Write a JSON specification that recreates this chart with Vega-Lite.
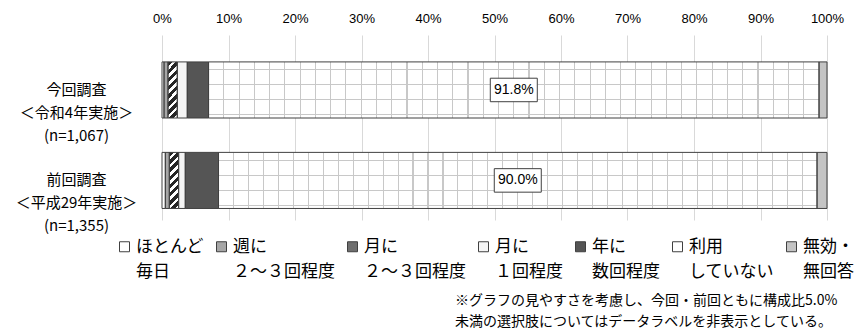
{
  "$schema": "https://vega.github.io/schema/vega-lite/v6.json",
  "width": 665,
  "height": 185,
  "autosize": {"type": "none"},
  "padding": {"left": 162, "top": 35, "right": 40, "bottom": 113},
  "background": "white",
  "config": {"view": {"stroke": null}, "font": "Noto Sans CJK JP"},
  "title": {
    "text": ["※グラフの見やすさを考慮し、今回・前回ともに構成比5.0%", "未満の選択肢についてはデータラベルを非表示としている。"],
    "orient": "bottom", "anchor": "start", "align": "left", "frame": "group",
    "dx": 293, "offset": 14, "fontSize": 14, "fontWeight": "normal",
    "font": "Noto Sans CJK JP", "color": "#000000", "lineHeight": 21
  },
  "data": {
    "values": [
      {"survey": "今回調査", "cat": "ほとんど毎日", "value": 0.3},
      {"survey": "今回調査", "cat": "週に２～３回程度", "value": 0.6},
      {"survey": "今回調査", "cat": "月に２～３回程度", "value": 1.4},
      {"survey": "今回調査", "cat": "月に１回程度", "value": 1.5},
      {"survey": "今回調査", "cat": "年に数回程度", "value": 3.2},
      {"survey": "今回調査", "cat": "利用していない", "value": 91.8},
      {"survey": "今回調査", "cat": "無効・無回答", "value": 1.2},
      {"survey": "前回調査", "cat": "ほとんど毎日", "value": 0.5},
      {"survey": "前回調査", "cat": "週に２～３回程度", "value": 0.6},
      {"survey": "前回調査", "cat": "月に２～３回程度", "value": 1.4},
      {"survey": "前回調査", "cat": "月に１回程度", "value": 1.0},
      {"survey": "前回調査", "cat": "年に数回程度", "value": 5.0},
      {"survey": "前回調査", "cat": "利用していない", "value": 90.0},
      {"survey": "前回調査", "cat": "無効・無回答", "value": 1.5}
    ]
  },
  "transform": [
    {"calculate": "indexof(['ほとんど毎日','週に２～３回程度','月に２～３回程度','月に１回程度','年に数回程度','利用していない','無効・無回答'], datum.cat)", "as": "o"},
    {"stack": "value", "groupby": ["survey"], "sort": [{"field": "o", "order": "ascending"}], "as": ["v0", "v1"]}
  ],
  "layer": [
    {
      "mark": {"type": "bar", "strokeWidth": 0},
      "encoding": {
        "x": {
          "field": "v0", "type": "quantitative",
          "scale": {"domain": [0, 100], "nice": false, "zero": true},
          "axis": {
            "orient": "top", "title": null, "values": [0, 10, 20, 30, 40, 50, 60, 70, 80, 90, 100],
            "labelExpr": "datum.value + '%'", "grid": true, "gridColor": "#d9d9d9", "gridWidth": 1,
            "domain": false, "ticks": false, "tickSize": 0, "labelPadding": 10, "labelFlush": false,
            "labelFont": "Liberation Sans", "labelFontSize": 13, "labelColor": "#000000"
          }
        },
        "x2": {"field": "v1"},
        "y": {
          "field": "survey", "type": "nominal", "sort": ["今回調査", "前回調査"],
          "scale": {"paddingInner": 0.38, "paddingOuter": 0.2125, "align": 0.7},
          "axis": {
            "title": null, "domain": false, "ticks": false, "tickSize": 0,
            "labelAlign": "center", "labelBaseline": "middle", "labelPadding": 86,
            "labelFontSize": 15, "labelLineHeight": 23, "labelColor": "#000000",
            "labelFont": "Noto Sans CJK JP", "labelLimit": 0,
            "labelExpr": "datum.label == '今回調査' ? ['今回調査', '＜令和4年実施＞', '(n=1,067)'] : ['前回調査', '＜平成29年実施＞', '(n=1,355)']"
          }
        },
        "color": {
          "field": "cat", "type": "nominal",
          "scale": {
            "domain": ["ほとんど毎日", "週に２～３回程度", "月に２～３回程度", "月に１回程度", "年に数回程度", "利用していない", "無効・無回答"],
            "range": ["#ffffff", "#a6a6a6", "#6e6e6e", "#f5f5f5", "#555555", "#ffffff", "#c4c4c4"]
          },
          "legend": {
            "orient": "none", "legendX": -46, "legendY": 203, "direction": "horizontal", "columns": 7,
            "title": null, "padding": 0, "symbolType": "square", "symbolSize": 100,
            "symbolStrokeColor": "#404040", "symbolStrokeWidth": 1, "symbolOpacity": 1,
            "labelFontSize": 17, "labelFont": "Noto Sans CJK JP", "labelColor": "#000000",
            "labelBaseline": "middle", "labelOffset": 3, "labelLimit": 0, "columnPadding": 9,
            "labelExpr": "datum.label == 'ほとんど毎日' ? ['ほとんど', '毎日'] : datum.label == '無効・無回答' ? ['無効・', '無回答'] : [substring(datum.label, 0, 2), substring(datum.label, 2)]",
            "encode": {"labels": {"update": {"lineHeight": {"value": 25}}}}
          }
        }
      }
    },
    {
      "transform": [{"filter": "datum.cat == '月に２～３回程度'"}],
      "mark": {
        "type": "bar", "strokeWidth": 0,
        "fill": {
          "gradient": "linear", "x1": 0, "y1": 0, "x2": 0.19, "y2": 1.13,
          "stops": [
            {"offset": 0, "color": "#262626"}, {"offset": 0.07, "color": "#262626"}, {"offset": 0.07, "color": "#ffffff"}, {"offset": 0.125, "color": "#ffffff"},
            {"offset": 0.125, "color": "#262626"}, {"offset": 0.195, "color": "#262626"}, {"offset": 0.195, "color": "#ffffff"}, {"offset": 0.25, "color": "#ffffff"},
            {"offset": 0.25, "color": "#262626"}, {"offset": 0.32, "color": "#262626"}, {"offset": 0.32, "color": "#ffffff"}, {"offset": 0.375, "color": "#ffffff"},
            {"offset": 0.375, "color": "#262626"}, {"offset": 0.445, "color": "#262626"}, {"offset": 0.445, "color": "#ffffff"}, {"offset": 0.5, "color": "#ffffff"},
            {"offset": 0.5, "color": "#262626"}, {"offset": 0.57, "color": "#262626"}, {"offset": 0.57, "color": "#ffffff"}, {"offset": 0.625, "color": "#ffffff"},
            {"offset": 0.625, "color": "#262626"}, {"offset": 0.695, "color": "#262626"}, {"offset": 0.695, "color": "#ffffff"}, {"offset": 0.75, "color": "#ffffff"},
            {"offset": 0.75, "color": "#262626"}, {"offset": 0.82, "color": "#262626"}, {"offset": 0.82, "color": "#ffffff"}, {"offset": 0.875, "color": "#ffffff"},
            {"offset": 0.875, "color": "#262626"}, {"offset": 0.945, "color": "#262626"}, {"offset": 0.945, "color": "#ffffff"}, {"offset": 1, "color": "#ffffff"}
          ]
        }
      },
      "encoding": {
        "x": {"field": "v0", "type": "quantitative"},
        "x2": {"field": "v1"},
        "y": {"field": "survey", "type": "nominal", "sort": ["今回調査", "前回調査"]}
      }
    },
    {
      "transform": [{"filter": "datum.cat == '利用していない'"}],
      "mark": {
        "type": "bar", "strokeWidth": 0,
        "fill": {
          "gradient": "linear", "x1": 0, "y1": 0, "x2": 1, "y2": 0,
          "stops": [
            {"offset": 0, "color": "rgba(200,200,200,0)"},
            {"offset": 0.0241, "color": "rgba(200,200,200,0)"}, {"offset": 0.0241, "color": "#c8c8c8"}, {"offset": 0.0259, "color": "#c8c8c8"}, {"offset": 0.0259, "color": "rgba(200,200,200,0)"},
            {"offset": 0.0491, "color": "rgba(200,200,200,0)"}, {"offset": 0.0491, "color": "#c8c8c8"}, {"offset": 0.0509, "color": "#c8c8c8"}, {"offset": 0.0509, "color": "rgba(200,200,200,0)"},
            {"offset": 0.0741, "color": "rgba(200,200,200,0)"}, {"offset": 0.0741, "color": "#c8c8c8"}, {"offset": 0.0759, "color": "#c8c8c8"}, {"offset": 0.0759, "color": "rgba(200,200,200,0)"},
            {"offset": 0.0991, "color": "rgba(200,200,200,0)"}, {"offset": 0.0991, "color": "#c8c8c8"}, {"offset": 0.1009, "color": "#c8c8c8"}, {"offset": 0.1009, "color": "rgba(200,200,200,0)"},
            {"offset": 0.1241, "color": "rgba(200,200,200,0)"}, {"offset": 0.1241, "color": "#c8c8c8"}, {"offset": 0.1259, "color": "#c8c8c8"}, {"offset": 0.1259, "color": "rgba(200,200,200,0)"},
            {"offset": 0.1491, "color": "rgba(200,200,200,0)"}, {"offset": 0.1491, "color": "#c8c8c8"}, {"offset": 0.1509, "color": "#c8c8c8"}, {"offset": 0.1509, "color": "rgba(200,200,200,0)"},
            {"offset": 0.1741, "color": "rgba(200,200,200,0)"}, {"offset": 0.1741, "color": "#c8c8c8"}, {"offset": 0.1759, "color": "#c8c8c8"}, {"offset": 0.1759, "color": "rgba(200,200,200,0)"},
            {"offset": 0.1991, "color": "rgba(200,200,200,0)"}, {"offset": 0.1991, "color": "#c8c8c8"}, {"offset": 0.2009, "color": "#c8c8c8"}, {"offset": 0.2009, "color": "rgba(200,200,200,0)"},
            {"offset": 0.2241, "color": "rgba(200,200,200,0)"}, {"offset": 0.2241, "color": "#c8c8c8"}, {"offset": 0.2259, "color": "#c8c8c8"}, {"offset": 0.2259, "color": "rgba(200,200,200,0)"},
            {"offset": 0.2491, "color": "rgba(200,200,200,0)"}, {"offset": 0.2491, "color": "#c8c8c8"}, {"offset": 0.2509, "color": "#c8c8c8"}, {"offset": 0.2509, "color": "rgba(200,200,200,0)"},
            {"offset": 0.2741, "color": "rgba(200,200,200,0)"}, {"offset": 0.2741, "color": "#c8c8c8"}, {"offset": 0.2759, "color": "#c8c8c8"}, {"offset": 0.2759, "color": "rgba(200,200,200,0)"},
            {"offset": 0.2991, "color": "rgba(200,200,200,0)"}, {"offset": 0.2991, "color": "#c8c8c8"}, {"offset": 0.3009, "color": "#c8c8c8"}, {"offset": 0.3009, "color": "rgba(200,200,200,0)"},
            {"offset": 0.3241, "color": "rgba(200,200,200,0)"}, {"offset": 0.3241, "color": "#c8c8c8"}, {"offset": 0.3259, "color": "#c8c8c8"}, {"offset": 0.3259, "color": "rgba(200,200,200,0)"},
            {"offset": 0.3491, "color": "rgba(200,200,200,0)"}, {"offset": 0.3491, "color": "#c8c8c8"}, {"offset": 0.3509, "color": "#c8c8c8"}, {"offset": 0.3509, "color": "rgba(200,200,200,0)"},
            {"offset": 0.3741, "color": "rgba(200,200,200,0)"}, {"offset": 0.3741, "color": "#c8c8c8"}, {"offset": 0.3759, "color": "#c8c8c8"}, {"offset": 0.3759, "color": "rgba(200,200,200,0)"},
            {"offset": 0.3991, "color": "rgba(200,200,200,0)"}, {"offset": 0.3991, "color": "#c8c8c8"}, {"offset": 0.4009, "color": "#c8c8c8"}, {"offset": 0.4009, "color": "rgba(200,200,200,0)"},
            {"offset": 0.4241, "color": "rgba(200,200,200,0)"}, {"offset": 0.4241, "color": "#c8c8c8"}, {"offset": 0.4259, "color": "#c8c8c8"}, {"offset": 0.4259, "color": "rgba(200,200,200,0)"},
            {"offset": 0.4491, "color": "rgba(200,200,200,0)"}, {"offset": 0.4491, "color": "#c8c8c8"}, {"offset": 0.4509, "color": "#c8c8c8"}, {"offset": 0.4509, "color": "rgba(200,200,200,0)"},
            {"offset": 0.4741, "color": "rgba(200,200,200,0)"}, {"offset": 0.4741, "color": "#c8c8c8"}, {"offset": 0.4759, "color": "#c8c8c8"}, {"offset": 0.4759, "color": "rgba(200,200,200,0)"},
            {"offset": 0.4991, "color": "rgba(200,200,200,0)"}, {"offset": 0.4991, "color": "#c8c8c8"}, {"offset": 0.5009, "color": "#c8c8c8"}, {"offset": 0.5009, "color": "rgba(200,200,200,0)"},
            {"offset": 0.5241, "color": "rgba(200,200,200,0)"}, {"offset": 0.5241, "color": "#c8c8c8"}, {"offset": 0.5259, "color": "#c8c8c8"}, {"offset": 0.5259, "color": "rgba(200,200,200,0)"},
            {"offset": 0.5491, "color": "rgba(200,200,200,0)"}, {"offset": 0.5491, "color": "#c8c8c8"}, {"offset": 0.5509, "color": "#c8c8c8"}, {"offset": 0.5509, "color": "rgba(200,200,200,0)"},
            {"offset": 0.5741, "color": "rgba(200,200,200,0)"}, {"offset": 0.5741, "color": "#c8c8c8"}, {"offset": 0.5759, "color": "#c8c8c8"}, {"offset": 0.5759, "color": "rgba(200,200,200,0)"},
            {"offset": 0.5991, "color": "rgba(200,200,200,0)"}, {"offset": 0.5991, "color": "#c8c8c8"}, {"offset": 0.6009, "color": "#c8c8c8"}, {"offset": 0.6009, "color": "rgba(200,200,200,0)"},
            {"offset": 0.6241, "color": "rgba(200,200,200,0)"}, {"offset": 0.6241, "color": "#c8c8c8"}, {"offset": 0.6259, "color": "#c8c8c8"}, {"offset": 0.6259, "color": "rgba(200,200,200,0)"},
            {"offset": 0.6491, "color": "rgba(200,200,200,0)"}, {"offset": 0.6491, "color": "#c8c8c8"}, {"offset": 0.6509, "color": "#c8c8c8"}, {"offset": 0.6509, "color": "rgba(200,200,200,0)"},
            {"offset": 0.6741, "color": "rgba(200,200,200,0)"}, {"offset": 0.6741, "color": "#c8c8c8"}, {"offset": 0.6759, "color": "#c8c8c8"}, {"offset": 0.6759, "color": "rgba(200,200,200,0)"},
            {"offset": 0.6991, "color": "rgba(200,200,200,0)"}, {"offset": 0.6991, "color": "#c8c8c8"}, {"offset": 0.7009, "color": "#c8c8c8"}, {"offset": 0.7009, "color": "rgba(200,200,200,0)"},
            {"offset": 0.7241, "color": "rgba(200,200,200,0)"}, {"offset": 0.7241, "color": "#c8c8c8"}, {"offset": 0.7259, "color": "#c8c8c8"}, {"offset": 0.7259, "color": "rgba(200,200,200,0)"},
            {"offset": 0.7491, "color": "rgba(200,200,200,0)"}, {"offset": 0.7491, "color": "#c8c8c8"}, {"offset": 0.7509, "color": "#c8c8c8"}, {"offset": 0.7509, "color": "rgba(200,200,200,0)"},
            {"offset": 0.7741, "color": "rgba(200,200,200,0)"}, {"offset": 0.7741, "color": "#c8c8c8"}, {"offset": 0.7759, "color": "#c8c8c8"}, {"offset": 0.7759, "color": "rgba(200,200,200,0)"},
            {"offset": 0.7991, "color": "rgba(200,200,200,0)"}, {"offset": 0.7991, "color": "#c8c8c8"}, {"offset": 0.8009, "color": "#c8c8c8"}, {"offset": 0.8009, "color": "rgba(200,200,200,0)"},
            {"offset": 0.8241, "color": "rgba(200,200,200,0)"}, {"offset": 0.8241, "color": "#c8c8c8"}, {"offset": 0.8259, "color": "#c8c8c8"}, {"offset": 0.8259, "color": "rgba(200,200,200,0)"},
            {"offset": 0.8491, "color": "rgba(200,200,200,0)"}, {"offset": 0.8491, "color": "#c8c8c8"}, {"offset": 0.8509, "color": "#c8c8c8"}, {"offset": 0.8509, "color": "rgba(200,200,200,0)"},
            {"offset": 0.8741, "color": "rgba(200,200,200,0)"}, {"offset": 0.8741, "color": "#c8c8c8"}, {"offset": 0.8759, "color": "#c8c8c8"}, {"offset": 0.8759, "color": "rgba(200,200,200,0)"},
            {"offset": 0.8991, "color": "rgba(200,200,200,0)"}, {"offset": 0.8991, "color": "#c8c8c8"}, {"offset": 0.9009, "color": "#c8c8c8"}, {"offset": 0.9009, "color": "rgba(200,200,200,0)"},
            {"offset": 0.9241, "color": "rgba(200,200,200,0)"}, {"offset": 0.9241, "color": "#c8c8c8"}, {"offset": 0.9259, "color": "#c8c8c8"}, {"offset": 0.9259, "color": "rgba(200,200,200,0)"},
            {"offset": 0.9491, "color": "rgba(200,200,200,0)"}, {"offset": 0.9491, "color": "#c8c8c8"}, {"offset": 0.9509, "color": "#c8c8c8"}, {"offset": 0.9509, "color": "rgba(200,200,200,0)"},
            {"offset": 0.9741, "color": "rgba(200,200,200,0)"}, {"offset": 0.9741, "color": "#c8c8c8"}, {"offset": 0.9759, "color": "#c8c8c8"}, {"offset": 0.9759, "color": "rgba(200,200,200,0)"},
            {"offset": 1, "color": "rgba(200,200,200,0)"}
          ]
        }
      },
      "encoding": {
        "x": {"field": "v0", "type": "quantitative"},
        "x2": {"field": "v1"},
        "y": {"field": "survey", "type": "nominal", "sort": ["今回調査", "前回調査"]}
      }
    },
    {
      "transform": [{"filter": "datum.cat == '利用していない'"}],
      "mark": {
        "type": "bar", "strokeWidth": 0,
        "fill": {
          "gradient": "linear", "x1": 0, "y1": 0, "x2": 0, "y2": 1,
          "stops": [
            {"offset": 0, "color": "rgba(200,200,200,0)"},
            {"offset": 0.128, "color": "rgba(200,200,200,0)"}, {"offset": 0.128, "color": "#c8c8c8"}, {"offset": 0.146, "color": "#c8c8c8"}, {"offset": 0.146, "color": "rgba(200,200,200,0)"},
            {"offset": 0.396, "color": "rgba(200,200,200,0)"}, {"offset": 0.396, "color": "#c8c8c8"}, {"offset": 0.414, "color": "#c8c8c8"}, {"offset": 0.414, "color": "rgba(200,200,200,0)"},
            {"offset": 0.664, "color": "rgba(200,200,200,0)"}, {"offset": 0.664, "color": "#c8c8c8"}, {"offset": 0.682, "color": "#c8c8c8"}, {"offset": 0.682, "color": "rgba(200,200,200,0)"},
            {"offset": 0.931, "color": "rgba(200,200,200,0)"}, {"offset": 0.931, "color": "#c8c8c8"}, {"offset": 0.949, "color": "#c8c8c8"}, {"offset": 0.949, "color": "rgba(200,200,200,0)"},
            {"offset": 1, "color": "rgba(200,200,200,0)"}
          ]
        }
      },
      "encoding": {
        "x": {"field": "v0", "type": "quantitative"},
        "x2": {"field": "v1"},
        "y": {"field": "survey", "type": "nominal", "sort": ["今回調査", "前回調査"]}
      }
    },
    {
      "mark": {"type": "bar", "fillOpacity": 0, "stroke": "#404040", "strokeWidth": 1},
      "encoding": {
        "x": {"field": "v0", "type": "quantitative"},
        "x2": {"field": "v1"},
        "y": {"field": "survey", "type": "nominal", "sort": ["今回調査", "前回調査"]}
      }
    },
    {
      "transform": [
        {"filter": "datum.cat == '利用していない'"},
        {"calculate": "(datum.v0 + datum.v1) / 2", "as": "mid"}
      ],
      "mark": {"type": "point", "shape": "M-1,-0.5H1V0.5H-1Z", "size": 2209, "filled": true, "fill": "#ffffff", "stroke": "#404040", "strokeWidth": 1, "opacity": 1},
      "encoding": {
        "x": {"field": "mid", "type": "quantitative"},
        "y": {"field": "survey", "type": "nominal", "sort": ["今回調査", "前回調査"]}
      }
    },
    {
      "transform": [
        {"filter": "datum.cat == '利用していない'"},
        {"calculate": "(datum.v0 + datum.v1) / 2", "as": "mid"},
        {"calculate": "format(datum.value, '.1f') + '%'", "as": "lbl"}
      ],
      "mark": {"type": "text", "font": "Liberation Sans", "fontSize": 14, "color": "#000000", "align": "center", "baseline": "middle"},
      "encoding": {
        "x": {"field": "mid", "type": "quantitative"},
        "y": {"field": "survey", "type": "nominal", "sort": ["今回調査", "前回調査"]},
        "text": {"field": "lbl"}
      }
    }
  ]
}
